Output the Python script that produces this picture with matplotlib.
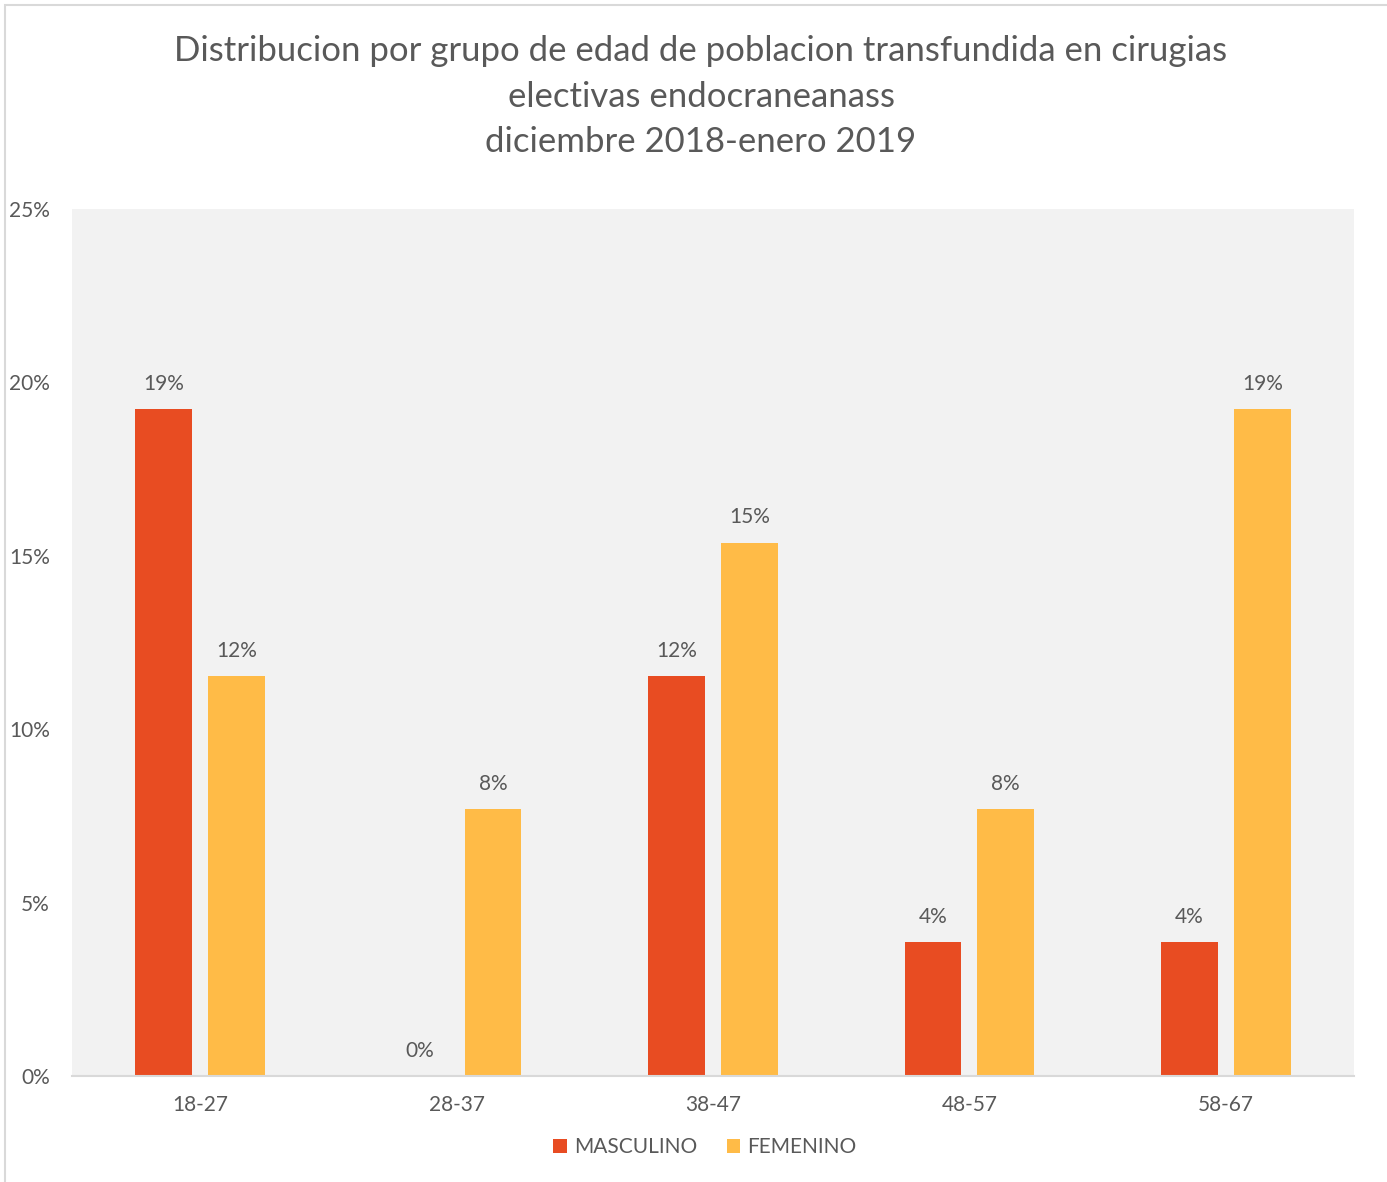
import matplotlib
matplotlib.use("Agg")
import matplotlib.pyplot as plt
from matplotlib.patches import Rectangle
import numpy as np

categories = ["18-27", "28-37", "38-47", "48-57", "58-67"]
masculino = [19.23, 0.0, 11.54, 3.85, 3.85]
femenino = [11.54, 7.69, 15.38, 7.69, 19.23]
series_names = ["MASCULINO", "FEMENINO"]
title_lines = ["Distribucion por grupo de edad de poblacion transfundida en cirugias",
               "electivas endocraneanass",
               "diciembre 2018-enero 2019"]
yticks = [0, 5, 10, 15, 20, 25]

plt.rcParams['font.family'] = ['Lato', 'DejaVu Sans']
TXT = "#595959"
RED = "#E84C22"
ORG = "#FFBB47"

W, H = 1387, 1182
fig = plt.figure(figsize=(W/100, H/100), dpi=100)
fig.patch.set_facecolor("white")

# border
fig.add_artist(Rectangle((5/W, -0.01), 1.02, 1 - 5/H + 0.01, transform=fig.transFigure,
                         fill=False, edgecolor="#D9D9D9", linewidth=1.5))

ax = fig.add_axes([72/W, 1 - 1076/H, (1354-72)/W, (1076-209)/H])
ax.set_facecolor("#F2F2F2")
x = np.arange(len(categories))
bw = 0.222
off = 0.142
b1 = ax.bar(x - off, masculino, bw, color=RED, label=series_names[0])
b2 = ax.bar(x + off, femenino, bw, color=ORG, label=series_names[1])
ax.set_xlim(-0.5, len(categories) - 0.5)
ax.set_ylim(0, 25)
ax.set_yticks(yticks)
ax.set_yticklabels([f"{v}%" for v in yticks])
ax.set_xticks(x)
ax.set_xticklabels(categories)
for s in ["top", "right", "left"]:
    ax.spines[s].set_visible(False)
ax.spines["bottom"].set_color("#D9D9D9")
ax.spines["bottom"].set_linewidth(1.5)
ax.tick_params(axis="both", length=0, colors=TXT, labelsize=15)
ax.tick_params(axis="y", pad=16)
ax.tick_params(axis="x", pad=14)

for bars, vals in ((b1, masculino), (b2, femenino)):
    for r, v in zip(bars, vals):
        ax.annotate(f"{v:.0f}%", (r.get_x() + r.get_width()/2, v), xytext=(0, 11),
                    textcoords="offset points", ha="center", va="bottom",
                    fontsize=15, color=TXT)

ys = [61, 107, 152]
for t, yb in zip(title_lines, ys):
    fig.text(701/W, 1 - yb/H, t, ha="center", va="baseline", fontsize=25, color=TXT)

leg = fig.legend(handles=[b1, b2], labels=series_names, loc="center",
                 bbox_to_anchor=(705/W, 1 - 1147/H), ncol=2, frameon=False,
                 fontsize=15, handlelength=0.65, handleheight=0.65, handletextpad=0.35,
                 columnspacing=1.4, labelcolor=TXT)

fig.savefig("out.png", dpi=100)
